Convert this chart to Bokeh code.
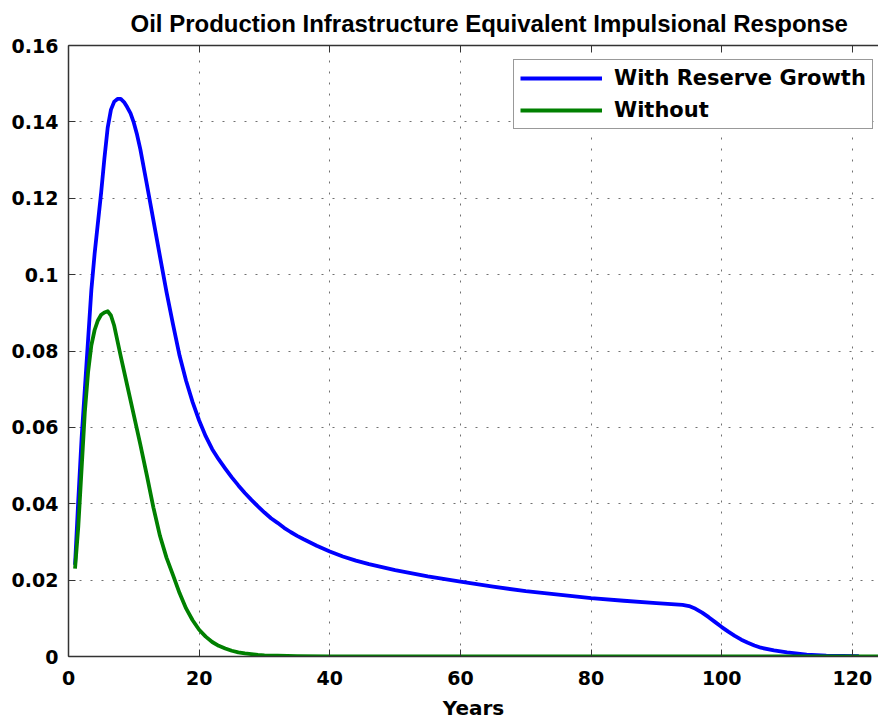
from bokeh.plotting import figure
from bokeh.models import LinearAxis, FixedTicker, Range1d, Legend, LegendItem
from bokeh.embed import file_html
from bokeh.resources import INLINE

# ---- data ----
years_with = [1, 1.5, 2, 2.5, 3, 3.5, 4, 4.5, 5, 5.5, 6, 6.5, 7, 7.5, 8, 8.5, 9, 9.5, 10,
              10.5, 11, 12, 13, 14, 15, 16, 17, 18, 19, 20,
              21, 22, 23, 24, 25, 26, 27, 28, 29, 30, 31, 32, 33, 34, 35, 36, 38, 40,
              42, 44, 46, 48, 50, 55, 60, 65, 70, 75, 80, 85, 90, 94, 95, 96, 97, 98,
              99, 100, 101, 102, 103, 104, 105, 106, 108, 110, 113, 116, 121]
with_growth = [0.024, 0.041, 0.057, 0.07, 0.083, 0.096, 0.1055, 0.1135, 0.1215, 0.1305,
               0.1385, 0.1432, 0.1453, 0.146, 0.146, 0.1452, 0.1438, 0.1422, 0.1398,
               0.1366, 0.1328, 0.1236, 0.1142, 0.1048, 0.0955, 0.087, 0.0788, 0.0722, 0.0666,
               0.0618,
               0.0577, 0.0543, 0.0516, 0.0492, 0.0469, 0.0448, 0.0428, 0.041, 0.0393, 0.0377,
               0.0362, 0.035, 0.0337, 0.0326, 0.0316, 0.0307, 0.029, 0.0275,
               0.0262, 0.0251, 0.0242, 0.0234, 0.0226, 0.021, 0.0196, 0.0183, 0.0171, 0.0162,
               0.0153, 0.0146, 0.014, 0.0135, 0.0132, 0.0125, 0.0115, 0.0103,
               0.009, 0.0077, 0.0065, 0.0054, 0.0044, 0.0036, 0.0029, 0.0023, 0.0016, 0.0011,
               0.0005, 0.0002, 0.0001]

years_without = [1, 1.5, 2, 2.5, 3, 3.5, 4, 4.5, 5, 5.5, 6, 6.5, 7, 7.5, 8, 9, 10,
                 11, 12, 13, 14, 15, 16, 17, 18, 19, 20,
                 21, 22, 23, 24, 25, 26, 27, 28, 29, 30, 32, 35, 40, 125]
without_growth = [0.023, 0.034, 0.049, 0.064, 0.0745, 0.0815, 0.0855, 0.088, 0.0895, 0.0901,
                  0.0904, 0.0893, 0.0866, 0.0826, 0.0786, 0.0709, 0.0632,
                  0.0555, 0.0474, 0.039, 0.0316, 0.0259, 0.0213, 0.0166, 0.0126, 0.0095, 0.007,
                  0.0052, 0.0038, 0.0028, 0.0021, 0.0015, 0.0011, 0.0008, 0.0006, 0.0004, 0.0003,
                  0.0002, 0.0001, 0.0, 0.0]

x_ticks = [0, 20, 40, 60, 80, 100, 120]
y_ticks = [0.0, 0.02, 0.04, 0.06, 0.08, 0.1, 0.12, 0.14, 0.16]
y_tick_labels = ["0", "0.02", "0.04", "0.06", "0.08", "0.1", "0.12", "0.14", "0.16"]

title_text = "Oil Production Infrastructure Equivalent Impulsional Response"
x_label = "Years"
series_names = ["With Reserve Growth", "Without"]

AX = "#333333"
FONT = "DejaVu Sans"

p = figure(frame_width=810, frame_height=611,
           x_range=Range1d(0, 124), y_range=Range1d(0, 0.16),
           output_backend="svg", toolbar_location=None,
           min_border_left=68, min_border_right=0, min_border_top=45, min_border_bottom=66,
           background_fill_color="white", border_fill_color="white")
p.outline_line_color = None

# title
p.title.text = title_text
p.title.align = "left"
p.title.offset = 62
p.title.vertical_align = "top"
p.title.text_line_height = 0.7
p.title.text_font = "Liberation Sans"
p.title.text_font_size = "24px"
p.title.text_font_style = "bold"
p.title.text_color = "black"
p.title.standoff = 14

# axes
for ax in (p.xaxis[0], p.yaxis[0]):
    ax.axis_line_color = AX
    ax.axis_line_width = 1.5
    ax.major_tick_in = 7
    ax.major_tick_out = 0
    ax.major_tick_line_color = AX
    ax.minor_tick_line_color = None
    ax.major_label_text_font = FONT
    ax.major_label_text_font_size = "19px"
    ax.major_label_text_font_style = "bold"
    ax.major_label_text_color = "black"

p.xaxis[0].ticker = FixedTicker(ticks=x_ticks)
p.xaxis[0].major_label_standoff = 14
p.xaxis[0].axis_label = x_label
p.xaxis[0].axis_label_text_font = FONT
p.xaxis[0].axis_label_text_font_size = "20px"
p.xaxis[0].axis_label_text_font_style = "bold"
p.xaxis[0].axis_label_text_color = "black"
p.xaxis[0].axis_label_standoff = 8

p.yaxis[0].ticker = FixedTicker(ticks=y_ticks)
p.yaxis[0].major_label_overrides = {v: s for v, s in zip(y_ticks, y_tick_labels)}
p.yaxis[0].major_label_standoff = 10

top_axis = LinearAxis(ticker=FixedTicker(ticks=x_ticks),
                      axis_line_color=AX, axis_line_width=1.5,
                      major_tick_in=7, major_tick_out=0, major_tick_line_color=AX,
                      minor_tick_line_color=None,
                      major_label_text_font_size="1px", major_label_text_color=None,
                      major_label_standoff=0)
p.add_layout(top_axis, "above")

# grids
for g in (p.xgrid[0], p.ygrid[0]):
    g.grid_line_color = "#707070"
    g.grid_line_dash = "2 9"
    g.grid_line_width = 1

r1 = p.line(years_with, with_growth, line_color="#0000ff", line_width=3.8,
            line_join="round")
r2 = p.line(years_without, without_growth, line_color="#008000", line_width=3.8,
            line_join="round")

legend = Legend(items=[LegendItem(label=series_names[0], renderers=[r1]),
                       LegendItem(label=series_names[1], renderers=[r2])],
                location=(445, 527), margin=0)
legend.border_line_color = AX
legend.border_line_width = 1.5
legend.background_fill_color = "white"
legend.background_fill_alpha = 1
legend.padding = 6
legend.spacing = 8
legend.glyph_width = 82
legend.glyph_height = 20
legend.label_height = 20
legend.label_standoff = 12
legend.label_text_font = FONT
legend.label_text_font_size = "21px"
legend.label_text_font_style = "bold"
legend.label_text_color = "black"
p.add_layout(legend, "center")

open("out.html", "w").write(file_html(p, INLINE))
